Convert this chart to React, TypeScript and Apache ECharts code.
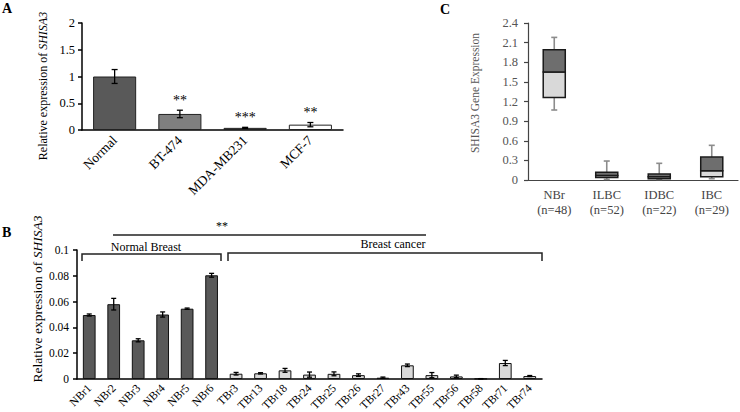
import React, { useEffect, useRef } from "react";
import * as echarts from "echarts";

const SERIF = "'Liberation Serif', 'DejaVu Serif', serif";

// Panel A
const aCategories = ["Normal", "BT-474", "MDA-MB231", "MCF-7"];
const aValues = [1.0, 0.3, 0.04, 0.1];
const aErrors = [0.13, 0.07, 0.01, 0.04];
const aSignif = ["", "**", "***", "**"];
const aYTicks = { min: 0, max: 2, interval: 0.5 };

// Panel B
const bCategories = [
  "NBr1", "NBr2", "NBr3", "NBr4", "NBr5", "NBr6",
  "TBr3", "TBr13", "TBr18", "TBr24", "TBr25", "TBr26", "TBr27",
  "TBr43", "TBr55", "TBr56", "TBr58", "TBr71", "TBr74",
];
const bValues = [
  0.0496, 0.058, 0.03, 0.05, 0.0545, 0.0804,
  0.0041, 0.0044, 0.0067, 0.0034, 0.004, 0.003, 0.001,
  0.0106, 0.003, 0.002, 0.0002, 0.0124, 0.0023,
];
const bErrors = [
  0.0008, 0.0045, 0.0012, 0.002, 0.0005, 0.0015,
  0.001, 0.0005, 0.0015, 0.002, 0.0015, 0.001, 0.0005,
  0.001, 0.002, 0.001, 0.0001, 0.002, 0.0004,
];
const bGroups = [
  "normal", "normal", "normal", "normal", "normal", "normal",
  "cancer", "cancer", "cancer", "cancer", "cancer", "cancer", "cancer",
  "cancer", "cancer", "cancer", "cancer", "cancer", "cancer",
];
const bYTicks = { min: 0, max: 0.1, interval: 0.02 };

// Panel C
const cCategories = ["NBr", "ILBC", "IDBC", "IBC"];
const cCounts = [48, 52, 22, 29];
const cMin = [1.07, 0.01, 0.01, 0.02];
const cQ1 = [1.26, 0.04, 0.02, 0.05];
const cMedian = [1.65, 0.07, 0.05, 0.14];
const cQ3 = [1.99, 0.12, 0.09, 0.35];
const cMax = [2.18, 0.29, 0.255, 0.53];
const cYTicks = { min: 0, max: 2.4, interval: 0.3 };

const aColors = ["#595959", "#7f7f7f", "#7f7f7f", "#ffffff"];
const bColorMap: Record<string, string> = { normal: "#595959", cancer: "#d9d9d9" };

function txt(x: number, y: number, text: string, font: string, align = "center", vAlign = "middle", extra: any = {}) {
  return {
    type: "text",
    x,
    y,
    ...extra,
    style: {
      text,
      font,
      fill: extra.fill || "#000",
      align,
      textAlign: align,
      verticalAlign: vAlign,
      textVerticalAlign: vAlign,
      rich: extra.rich,
    },
  };
}

function errorBarRenderer(signif: string[] | null, capHalf: number) {
  return (params: any, api: any) => {
    const i = api.value(0);
    const v = api.value(1);
    const e = api.value(2);
    const top = api.coord([i, v + e]);
    const bot = api.coord([i, Math.max(0, v - e)]);
    const st = { stroke: "#000", lineWidth: 1.3 };
    const children: any[] = [
      { type: "line", shape: { x1: top[0], y1: top[1], x2: bot[0], y2: bot[1] }, style: st },
      { type: "line", shape: { x1: top[0] - capHalf, y1: top[1], x2: top[0] + capHalf, y2: top[1] }, style: st },
      { type: "line", shape: { x1: bot[0] - capHalf, y1: bot[1], x2: bot[0] + capHalf, y2: bot[1] }, style: st },
    ];
    if (signif && signif[params.dataIndex]) {
      children.push({
        type: "text",
        x: top[0],
        y: top[1] - 3,
        style: {
          text: signif[params.dataIndex],
          font: `14px ${SERIF}`,
          fill: "#000",
          align: "center",
          textAlign: "center",
          verticalAlign: "bottom",
          textVerticalAlign: "bottom",
        },
      });
    }
    return { type: "group", children };
  };
}

function boxRenderer(params: any, api: any) {
  const i = api.value(0);
  const mn = api.value(1), q1 = api.value(2), md = api.value(3), q3 = api.value(4), mx = api.value(5);
  const w = api.size([1, 0])[0] * 0.42;
  const pMin = api.coord([i, mn]);
  const pQ1 = api.coord([i, q1]);
  const pMd = api.coord([i, md]);
  const pQ3 = api.coord([i, q3]);
  const pMax = api.coord([i, mx]);
  const x0 = pQ1[0] - w / 2;
  const wStyle = { stroke: "#8c8c8c", lineWidth: 1.6 };
  const cap = 3;
  return {
    type: "group",
    children: [
      { type: "line", shape: { x1: pMax[0], y1: pMax[1], x2: pQ3[0], y2: pQ3[1] }, style: wStyle },
      { type: "line", shape: { x1: pMax[0] - cap, y1: pMax[1], x2: pMax[0] + cap, y2: pMax[1] }, style: wStyle },
      { type: "line", shape: { x1: pQ1[0], y1: pQ1[1], x2: pMin[0], y2: pMin[1] }, style: wStyle },
      { type: "line", shape: { x1: pMin[0] - cap, y1: pMin[1], x2: pMin[0] + cap, y2: pMin[1] }, style: wStyle },
      { type: "rect", shape: { x: x0, y: pMd[1], width: w, height: pQ1[1] - pMd[1] }, style: { fill: "#d9d9d9", stroke: "#1a1a1a", lineWidth: 1.5 } },
      { type: "rect", shape: { x: x0, y: pQ3[1], width: w, height: pMd[1] - pQ3[1] }, style: { fill: "#6e6e6e", stroke: "#1a1a1a", lineWidth: 1.5 } },
    ],
  };
}

export default function App() {
  const ref = useRef<HTMLDivElement>(null);
  useEffect(() => {
    if (!ref.current) return;
    const chart = echarts.init(ref.current, undefined, { renderer: "svg" });
    const blackAxis = { lineStyle: { color: "#000", width: 1.5 } };
    const option: any = {
      animation: false,
      textStyle: { fontFamily: SERIF },
      grid: [
        { left: 82, top: 23, width: 261, height: 107, outerBoundsMode: "none" },
        { left: 77, top: 250, width: 465, height: 129, outerBoundsMode: "none" },
        { left: 528, top: 23, width: 210, height: 157, outerBoundsMode: "none" },
      ],
      xAxis: [
        {
          gridIndex: 0, type: "category", data: aCategories,
          axisLine: blackAxis, axisTick: { ...blackAxis, length: 4 },
          axisLabel: { rotate: 45, interval: 0, color: "#000", fontSize: 13.5, fontFamily: SERIF, margin: 8 },
        },
        {
          gridIndex: 1, type: "category", data: bCategories,
          axisLine: blackAxis, axisTick: { ...blackAxis, length: 4 },
          axisLabel: { rotate: 45, interval: 0, color: "#000", fontSize: 11.5, fontFamily: SERIF, margin: 7 },
        },
        {
          gridIndex: 2, type: "category", data: cCategories.map((c, i) => `${c}\n(n=${cCounts[i]})`),
          axisLine: { lineStyle: { color: "#444", width: 1.2 } }, axisTick: { lineStyle: { color: "#444", width: 1.2 }, length: 4 },
          axisLabel: { interval: 0, color: "#444", fontSize: 12.5, fontFamily: SERIF, margin: 7, lineHeight: 15 },
        },
      ],
      yAxis: [
        {
          gridIndex: 0, type: "value", ...aYTicks,
          axisLine: { show: true, ...blackAxis }, axisTick: { show: true, ...blackAxis, length: 4 },
          splitLine: { show: false },
          axisLabel: { color: "#000", fontSize: 12.5, fontFamily: SERIF, margin: 7 },
        },
        {
          gridIndex: 1, type: "value", ...bYTicks,
          axisLine: { show: true, ...blackAxis }, axisTick: { show: true, ...blackAxis, length: 4 },
          splitLine: { show: false },
          axisLabel: {
            color: "#000", fontSize: 11.5, fontFamily: SERIF, margin: 8,
            formatter: (v: number) => (v === 0 ? "0" : String(+v.toFixed(2))),
          },
        },
        {
          gridIndex: 2, type: "value", ...cYTicks,
          axisLine: { show: true, lineStyle: { color: "#444", width: 1.2 } },
          axisTick: { show: true, lineStyle: { color: "#444", width: 1.2 }, length: 4 },
          splitLine: { show: false },
          axisLabel: {
            color: "#555", fontSize: 12.5, fontFamily: SERIF, margin: 10,
            formatter: (v: number) => (v === 0 ? "0" : v.toFixed(1)),
          },
        },
      ],
      series: [
        {
          type: "bar", xAxisIndex: 0, yAxisIndex: 0, barWidth: "66%",
          data: aValues.map((v, i) => ({ value: v, itemStyle: { color: aColors[i] } })),
          itemStyle: { borderColor: "#222", borderWidth: 1 },
        },
        {
          type: "custom", xAxisIndex: 0, yAxisIndex: 0, z: 10,
          data: aValues.map((v, i) => [i, v, aErrors[i]]),
          renderItem: errorBarRenderer(aSignif, 3),
        },
        {
          type: "bar", xAxisIndex: 1, yAxisIndex: 1, barWidth: "52%",
          data: bValues.map((v, i) => ({ value: v, itemStyle: { color: bColorMap[bGroups[i]] } })),
          itemStyle: { borderColor: "#111", borderWidth: 1 },
        },
        {
          type: "custom", xAxisIndex: 1, yAxisIndex: 1, z: 10,
          data: bValues.map((v, i) => [i, v, bErrors[i]]),
          renderItem: errorBarRenderer(null, 2.5),
        },
        {
          type: "custom", xAxisIndex: 2, yAxisIndex: 2, z: 10,
          data: cCategories.map((_, i) => [i, cMin[i], cQ1[i], cMedian[i], cQ3[i], cMax[i]]),
          encode: { x: 0, y: [1, 2, 3, 4, 5] },
          renderItem: boxRenderer,
        },
      ],
      graphic: [
        txt(2, 8, "A", `bold 14px ${SERIF}`, "left", "middle"),
        txt(2, 232, "B", `bold 14px ${SERIF}`, "left", "middle"),
        txt(440, 9, "C", `bold 14px ${SERIF}`, "left", "middle"),
        txt(43, 86, "Relative expression of {i|SHISA3}", `12px ${SERIF}`, "center", "middle", {
          rotation: Math.PI / 2,
          rich: { i: { fontStyle: "italic", fontSize: 12, fontFamily: SERIF } },
        }),
        txt(37, 299, "Relative expression of {i|SHISA3}", `13.5px ${SERIF}`, "center", "middle", {
          rotation: Math.PI / 2,
          rich: { i: { fontStyle: "italic", fontSize: 13.5, fontFamily: SERIF } },
        }),
        txt(475, 93, "SHISA3 Gene Expression", `11.5px ${SERIF}`, "center", "middle", {
          rotation: Math.PI / 2,
          fill: "#555",
        }),
        {
          type: "line",
          shape: { x1: 113, y1: 235, x2: 426, y2: 235 },
          style: { stroke: "#222", lineWidth: 1.5 },
        },
        txt(222, 226, "**", `12px ${SERIF}`, "center", "middle"),
        {
          type: "polyline",
          shape: { points: [[82, 261], [82, 254], [221, 254], [221, 261]] },
          style: { stroke: "#222", lineWidth: 1.5, fill: null },
        },
        txt(146, 247, "Normal Breast", `12px ${SERIF}`, "center", "middle"),
        {
          type: "polyline",
          shape: { points: [[228, 261], [228, 253], [542, 253], [542, 261]] },
          style: { stroke: "#222", lineWidth: 1.5, fill: null },
        },
        txt(393, 244, "Breast cancer", `12px ${SERIF}`, "center", "middle"),
      ],
    };
    chart.setOption(option);
    return () => chart.dispose();
  }, []);
  return (
    <div
      ref={ref}
      style={{ position: "fixed", left: 0, top: 0, width: 740, height: 412, background: "#fff" }}
    />
  );
}
